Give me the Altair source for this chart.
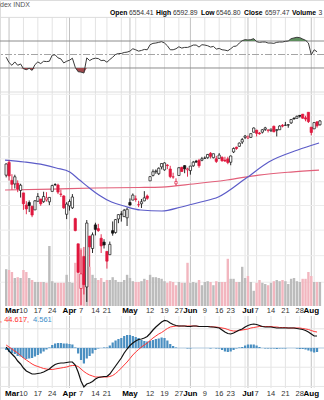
import altair as alt
import pandas as pd

FONT = "Liberation Sans"
RED = "#e0173d"
BLACK = "#111111"

# trading-day index: 0 = Mon 3 Mar 2025, first candle = Fri 28 Feb (-1)
opens = [5856.74, 5968.33, 5811.98, 5781.41, 5785.87, 5726.01,
         5705.37, 5603.65, 5624.84, 5594.45, 5563.85,
         5635.60, 5654.53, 5632.37, 5646.92, 5630.73,
         5718.08, 5775.86, 5771.66, 5695.64, 5679.75,
         5527.91, 5597.53, 5580.76, 5492.74, 5292.14,
         4953.79, 5193.57, 4965.28, 5353.15, 5255.56,
         5441.96, 5411.99, 5335.75, 5305.45,
         5232.94, 5207.67, 5395.92, 5381.38, 5489.73,
         5529.22, 5508.87, 5499.44, 5625.14, 5645.00,
         5655.32, 5607.03, 5614.43, 5638.52, 5679.41,
         5807.57, 5854.88, 5886.63, 5869.55, 5929.09,
         5902.88, 5944.66, 5910.43, 5841.26, 5781.89,
         5854.07, 5925.64, 5939.92, 5903.67,
         5896.68, 5938.56, 5978.94, 5985.67, 5987.06,
         6004.60, 6009.91, 6049.38, 6009.90, 6000.56,
         6004.00, 6012.15, 5987.93, 5999.67,
         5969.67, 6061.21, 6104.31, 6112.09, 6150.70,
         6193.36, 6187.25, 6193.35, 6240.08,
         6259.24, 6233.03, 6240.75, 6266.29, 6255.68,
         6255.15, 6295.22, 6257.64, 6263.40, 6305.39,
         6304.74, 6306.60, 6326.90, 6368.60, 6370.01,
         6397.69, 6409.26, 6374.34, 6427.02, 6287.28,
         6271.71, 6336.24, 6309.34]
highs = [5959.40, 5986.09, 5865.08, 5860.59, 5812.08, 5783.01,
         5705.37, 5636.30, 5642.19, 5597.78, 5645.27,
         5703.52, 5654.53, 5715.33, 5711.15, 5670.84,
         5775.14, 5786.95, 5783.62, 5732.28, 5685.89,
         5627.56, 5650.57, 5695.31, 5499.53, 5292.14,
         5246.57, 5267.47, 5481.34, 5353.15, 5381.46,
         5459.46, 5450.41, 5367.24, 5328.31,
         5232.94, 5309.60, 5469.69, 5489.40, 5528.11,
         5553.66, 5571.95, 5581.84, 5658.91, 5700.70,
         5683.36, 5639.29, 5654.58, 5720.10, 5691.73,
         5847.99, 5906.63, 5906.49, 5924.67, 5958.62,
         5968.61, 5953.06, 5938.37, 5878.08, 5829.51,
         5924.33, 5929.00, 5943.13, 5922.14,
         5937.40, 5981.35, 5990.48, 5999.70, 6016.87,
         6021.31, 6043.01, 6059.40, 6045.43, 6026.16,
         6050.83, 6023.25, 6018.25, 6018.20,
         6028.81, 6101.80, 6108.51, 6146.52, 6187.68,
         6215.08, 6210.78, 6227.60, 6284.65,
         6262.76, 6242.64, 6269.22, 6290.22, 6269.69,
         6273.31, 6302.04, 6267.15, 6304.57, 6315.61,
         6336.08, 6316.12, 6360.64, 6381.31, 6395.82,
         6401.07, 6409.26, 6394.21, 6427.02, 6287.28,
         6330.02, 6343.97, 6352.83]
lows = [5837.66, 5810.91, 5732.59, 5742.35, 5711.64, 5666.29,
        5564.02, 5528.41, 5546.09, 5504.65, 5563.85,
        5631.12, 5597.76, 5622.20, 5632.60, 5603.10,
        5718.08, 5764.01, 5695.46, 5670.94, 5572.42,
        5488.73, 5558.52, 5571.48, 5390.83, 5069.90,
        4835.04, 4910.42, 4856.83, 5115.27, 5220.77,
        5358.02, 5386.44, 5220.79, 5255.58,
        5101.63, 5207.67, 5356.05, 5371.96, 5455.86,
        5468.64, 5505.70, 5433.24, 5597.35, 5644.54,
        5631.67, 5586.44, 5579.68, 5635.35, 5646.79,
        5806.25, 5845.76, 5868.78, 5857.84, 5907.17,
        5895.69, 5909.26, 5830.91, 5825.82, 5767.41,
        5854.07, 5886.81, 5873.80, 5843.66,
        5861.43, 5929.00, 5966.11, 5921.20, 5978.63,
        6000.27, 6000.26, 6002.32, 6003.88, 5963.21,
        6004.00, 5974.80, 5971.89, 5952.56,
        5943.23, 6051.33, 6080.15, 6107.32, 6132.35,
        6177.97, 6177.97, 6188.29, 6240.08,
        6201.14, 6217.80, 6228.88, 6251.67, 6237.49,
        6242.47, 6241.03, 6201.59, 6263.40, 6285.27,
        6303.79, 6281.71, 6317.49, 6360.57, 6368.53,
        6375.92, 6365.72, 6342.19, 6326.06, 6212.69,
        6271.71, 6282.44, 6301.98]
closes = [5954.50, 5849.72, 5778.15, 5842.63, 5738.52, 5770.20,
          5614.56, 5572.07, 5599.30, 5521.52, 5638.94,
          5675.12, 5614.66, 5675.29, 5662.89, 5667.56,
          5767.57, 5776.65, 5712.20, 5693.31, 5580.94,
          5611.85, 5633.07, 5670.97, 5396.52, 5074.08,
          5062.25, 4982.77, 5456.90, 5268.05, 5363.36,
          5405.97, 5396.63, 5275.70, 5282.70,
          5158.20, 5287.76, 5375.86, 5484.77, 5525.21,
          5528.75, 5560.83, 5569.06, 5604.14, 5686.67,
          5650.38, 5606.91, 5631.28, 5663.94, 5659.91,
          5844.19, 5886.55, 5892.58, 5916.93, 5958.38,
          5963.60, 5940.46, 5844.61, 5842.01, 5802.82,
          5921.54, 5888.55, 5912.17, 5911.69,
          5935.94, 5970.37, 5970.81, 5939.30, 6000.36,
          6005.88, 6038.81, 6022.24, 6045.26, 5976.97,
          6033.11, 5982.72, 5980.87, 5967.84,
          6025.17, 6092.18, 6092.16, 6141.02, 6173.07,
          6204.95, 6198.01, 6227.42, 6279.35,
          6229.98, 6225.52, 6263.26, 6280.46, 6259.75,
          6268.56, 6243.76, 6263.70, 6297.36, 6296.79,
          6305.60, 6309.62, 6358.91, 6363.35, 6388.64,
          6389.77, 6370.86, 6362.90, 6339.39, 6238.01,
          6329.94, 6299.19, 6345.06]
prev_close_first = 5861.57
volumes = [4.6, 4.5, 4.25, 3.5, 3.6, 3.5,
           4.5, 4.25, 3.5, 3.25, 3.0,
           3.0, 3.0, 3.0, 2.9, 7.5,
           3.1, 2.9, 2.9, 2.9, 2.9,
           3.9, 3.0, 2.9, 5.4, 6.6,
           7.25, 6.0, 6.9, 4.9, 3.9,
           3.5, 3.25, 3.5, 3.0,
           3.25, 3.25, 3.6, 3.25, 3.0,
           3.0, 3.25, 3.9, 3.5, 3.1,
           3.0, 3.0, 3.1, 3.4, 3.25,
           3.9, 3.6, 3.6, 3.5, 3.4,
           3.1, 2.9, 3.1, 3.0, 2.6,
           3.0, 2.9, 2.9, 5.4,
           2.9, 3.0, 2.9, 3.25, 2.6,
           3.0, 3.1, 3.0, 2.6, 3.1,
           3.0, 3.0, 3.0, 5.9,
           3.4, 3.4, 3.0, 3.0, 4.9,
           3.5, 3.75, 3.0, 1.9,
           2.9, 3.25, 2.9, 2.75, 2.6,
           2.9, 3.1, 3.25, 3.1, 3.25,
           3.1, 2.75, 3.4, 3.5, 3.1,
           3.0, 3.4, 3.4, 4.25, 3.75,
           3.0, 3.0, 3.0]

# indicators, days -1 .. 107
rsi = [46, 38, 34, 39, 34, 36,
       29, 27.5, 29.5, 26.5, 35,
       39, 36.5, 40, 39.5, 40,
       49, 49.5, 45, 43.5, 37.5,
       40, 41.5, 44.5, 31, 24.5,
       24, 22.5, 45, 41, 43.5,
       44.5, 44, 41, 41.5,
       38.5, 42.5, 46, 50, 51.5,
       51.5, 53, 53.5, 55, 58.5,
       57, 55, 56, 57.5, 57,
       64.5, 66.5, 67, 68, 69,
       67, 63, 57, 57, 58.5,
       61.5, 59.5, 60.5, 60.5,
       62, 64, 64, 61, 64.5,
       64, 63, 61, 62, 58,
       59, 57, 56.5, 55.5,
       58.5, 62, 62.5, 67, 70.5,
       72, 71.5, 72, 73.5,
       69, 68, 68.5, 68.5, 67,
       67, 66.5, 68, 68.5, 68.5,
       69.5, 70, 73.5, 74.5, 75.5,
       75, 73, 71, 67, 49.5,
       57, 54]
macd = [2.6, -7.8, -15.6, -23.4, -33.8, -41.6,
        -52.0, -59.8, -63.7, -67.6, -67.6,
        -66.3, -65.0, -62.4, -58.5, -54.6,
        -48.1, -42.9, -40.3, -39.0, -39.0,
        -37.7, -36.4, -36.4, -44.2, -62.4,
        -85.8, -101.4, -93.6, -91.0, -87.1,
        -80.6, -76.7, -75.4, -74.1,
        -74.1, -67.6, -57.2, -46.8, -36.4,
        -26.0, -13.0, -2.6, 6.5, 13.0,
        18.2, 22.1, 23.4, 26.0, 29.9,
        37.7, 46.8, 54.6, 61.1, 67.6,
        71.5, 70.2, 65.0, 61.1, 58.5,
        57.2, 57.2, 57.2, 55.9,
        55.9, 57.2, 57.2, 55.9, 55.9,
        55.9, 55.9, 54.6, 54.6, 53.3,
        52.0, 46.8, 41.6, 37.7,
        36.4, 39.0, 42.9, 46.8, 49.4,
        54.6, 58.5, 61.1, 62.4,
        61.1, 58.5, 55.9, 54.6, 54.6,
        54.6, 53.3, 52.0, 52.0, 52.0,
        52.0, 52.0, 52.0, 52.0, 50.7,
        49.4, 48.1, 45.5, 41.6, 36.4,
        31.2, 31.2]
signal = [7.8, 2.6, -2.6, -7.8, -13.0, -19.5,
          -26.0, -31.2, -36.4, -41.6, -45.5,
          -48.1, -50.7, -53.3, -54.6, -55.9,
          -55.9, -54.6, -53.3, -52.0, -50.7,
          -49.4, -46.8, -45.5, -45.5, -48.1,
          -54.6, -61.1, -66.3, -70.2, -72.8,
          -75.4, -75.4, -75.4, -75.4,
          -75.4, -74.1, -71.5, -66.3, -59.8,
          -52.0, -44.2, -36.4, -27.3, -18.2,
          -10.4, -3.9, 2.6, 7.8, 13.0,
          19.5, 26.0, 31.2, 36.4, 40.3,
          45.5, 50.7, 54.6, 55.9, 57.2,
          57.2, 57.2, 57.2, 57.2,
          57.2, 57.2, 57.2, 55.9, 55.9,
          55.9, 55.9, 55.9, 54.6, 54.6,
          53.3, 52.0, 50.7, 48.1,
          45.5, 44.2, 44.2, 45.5, 46.8,
          48.1, 49.4, 52.0, 53.3,
          54.6, 55.9, 55.9, 55.9, 55.9,
          55.9, 54.6, 54.6, 53.3, 53.3,
          53.3, 52.0, 52.0, 52.0, 52.0,
          52.0, 50.7, 49.4, 48.1, 45.5,
          42.9, 41.6]

ma50_days = [-1.4, 5.3, 12.1, 16.4, 21.1, 24.5, 27.9, 31.2, 35.6, 40.0, 45.7,
             53.1, 59.9, 66.6, 72.7, 82.4, 90.2, 100.3, 107.7]
ma50_vals = [5989, 5972, 5946, 5919, 5884, 5815, 5747, 5688, 5629, 5596, 5563,
             5555, 5588, 5629, 5671, 5832, 5972, 6079, 6142]
ma200_days = [-1.4, 15, 30, 45, 53, 64, 75.7, 86.8, 97.9, 107.7]
ma200_vals = [5730, 5738, 5747, 5751, 5755, 5781, 5815, 5858, 5884, 5901]

tick_days = [0, 5, 10, 15, 21, 25, 30, 34, 42, 49, 54, 59, 63, 68, 73, 77,
             83, 86, 91, 96, 101, 105]
tick_labels = ["Mar", "10", "17", "24", "Apr", "7", "14", "21", "May", "12",
               "19", "27", "Jun", "9", "16", "23", "Jul", "7", "14", "21",
               "28", "Aug"]
month_days = [0, 21, 42, 63, 83, 105]
week_days = [0, 5, 10, 15, 20, 25, 30, 34, 39, 44, 49, 54, 59, 63, 68, 73,
             77, 82, 86, 91, 96, 101, 106]
price_grid = [5000, 5200, 5400, 5600, 5800, 6000, 6200, 6400, 6600]
macd_grid = [-100, -50, 50]

hdr_labels = ["Open", "High", "Low", "Close", "Volume"]
hdr_values = ["6554.41", "6592.89", "6546.80", "6597.47", "3"]

# ---------------- frames ----------------
n = len(opens)
days = list(range(-1, -1 + n))
prevs = [prev_close_first] + closes[:-1]
rows = []
for d, o, h, l, c, v, p in zip(days, opens, highs, lows, closes, volumes, prevs):
    up = c >= p
    stroke = BLACK if up else RED
    fill = "#ffffff" if c > o else stroke
    rows.append(dict(day=d, open=o, high=h, low=l, close=c, vol=v,
                     stroke=stroke, fill=fill,
                     vcol="#bcbcbc" if up else "#f2b6bf"))
pdf = pd.DataFrame(rows)
ind_days = list(range(-1, -1 + len(rsi)))
idf = pd.DataFrame(dict(day=ind_days, rsi=rsi, macd=macd, signal=signal))
ma50_df = pd.DataFrame(dict(day=ma50_days, v=ma50_vals))
ma200_df = pd.DataFrame(dict(day=ma200_days, v=ma200_vals))
grid_all = sorted(set(week_days + month_days))
grid_col = ["#c2c2c2" if g in month_days else "#e3e3e3" for g in grid_all]
tick_df = pd.DataFrame(dict(day=tick_days, t=tick_labels,
                            m=[d in month_days for d in tick_days]))

W, H = 324, 400
xscale = alt.Scale(domain=[-1.41, 107.68], nice=False, zero=False)

# panel scales (each panel gets its own vertical band)
rsi_dom = [-7.04, 105.56]
price_dom = [4827.6, 6612.6]
macd_dom = [-104.0, 83.2]
rsi_scale = alt.Scale(domain=rsi_dom, range=[93, 17], nice=False, zero=False)
price_scale = alt.Scale(type="log", domain=price_dom, range=[306, 93], nice=False, zero=False)
vol_scale = alt.Scale(domain=[0, 26.625], range=[306, 93], nice=False, zero=True)
macd_scale = alt.Scale(domain=macd_dom, range=[388, 316], nice=False, zero=False)


def X(field="day"):
    return alt.X(field + ":Q", scale=xscale, axis=None)


def Y(field, scale):
    return alt.Y(field + ":Q", scale=scale, axis=None)


def vgrid(dom, scale):
    df = pd.DataFrame(dict(day=grid_all, c=grid_col, top=[dom[1]] * len(grid_all),
                           bot=[dom[0]] * len(grid_all)))
    return alt.Chart(df).mark_rule(strokeWidth=1).encode(
        x=X(), y=Y("top", scale), y2="bot:Q", color=alt.Color("c:N", scale=None))


def hrules(vals, scale, **kw):
    return alt.Chart(pd.DataFrame(dict(v=vals))).mark_rule(**kw).encode(y=Y("v", scale))


def tick_text(ypix):
    months = tick_df[tick_df.m & (tick_df.day > 0)]
    first = tick_df[tick_df.day == 0]
    nums = tick_df[~tick_df.m]
    base = dict(baseline="middle", font=FONT)
    return [
        alt.Chart(first).mark_text(align="left", dx=-4, fontSize=8, fontWeight="bold",
                                   color="#000000", **base).encode(
            x=X(), y=alt.value(ypix), text="t:N"),
        alt.Chart(months).mark_text(align="center", fontSize=8, fontWeight="bold",
                                    color="#000000", **base).encode(
            x=X(), y=alt.value(ypix), text="t:N"),
        alt.Chart(nums).mark_text(align="center", fontSize=7.5, color="#333333", **base).encode(
            x=X(), y=alt.value(ypix), text="t:N"),
    ]


# ---------------- header ----------------
hx_lab = [110, 156, 201, 244, 292]
hx_val = [129, 173, 216, 265, 318.5]
hdr_b = pd.DataFrame(dict(t=hdr_labels, px=hx_lab, py=[13] * 5))
hdr_n = pd.DataFrame(dict(t=hdr_values, px=hx_val, py=[13] * 5))
hdr_t = pd.DataFrame(dict(t=["dex INDX"], px=[0], py=[5]))
enc_h = dict(x=alt.X("px:Q", scale=None, axis=None), y=alt.Y("py:Q", scale=None, axis=None),
             text="t:N")
header_layers = [
    alt.Chart(hdr_t).mark_text(align="left", baseline="middle", font=FONT, fontSize=7,
                               color="#555555").encode(**enc_h),
    alt.Chart(hdr_b).mark_text(align="left", baseline="middle", font=FONT, fontSize=6.8,
                               fontWeight="bold", color="#000000").encode(**enc_h),
    alt.Chart(hdr_n).mark_text(align="left", baseline="middle", font=FONT, fontSize=6.8,
                               color="#333333").encode(**enc_h),
]

# ---------------- RSI ----------------
rsi_layers = [
    vgrid(rsi_dom, rsi_scale),
    hrules([105.0, -5.6], rsi_scale, color="#dcdcdc"),
    hrules([30, 70], rsi_scale, color="#8c8c8c"),
    hrules([50], rsi_scale, color="#a5a5a5", strokeDash=[7, 2, 2, 2]),
    alt.Chart(idf).transform_calculate(hi="max(datum.rsi, 70)", b70="70").mark_area(
        color="#5f8f5f", clip=True).encode(x=X(), y=Y("hi", rsi_scale), y2="b70:Q"),
    alt.Chart(idf).transform_calculate(lo="min(datum.rsi, 30)", b30="30").mark_area(
        color="#a3484c", clip=True).encode(x=X(), y=Y("lo", rsi_scale), y2="b30:Q"),
    alt.Chart(idf).mark_line(color="#3a3a3a", strokeWidth=1, clip=True).encode(
        x=X(), y=Y("rsi", rsi_scale)),
]

# ---------------- price ----------------
price_layers = [
    vgrid(price_dom, price_scale),
    hrules(price_grid, price_scale, color="#ececec"),
    alt.Chart(pdf).mark_bar(size=2.4, clip=True).encode(
        x=X(), y=Y("vol", vol_scale), color=alt.Color("vcol:N", scale=None)),
    alt.Chart(ma200_df).mark_line(color="#e2607a", strokeWidth=1.2, interpolate="monotone",
                                  clip=True).encode(x=X(), y=Y("v", price_scale)),
    alt.Chart(ma50_df).mark_line(color="#5c5cc8", strokeWidth=1.2, interpolate="monotone",
                                 clip=True).encode(x=X(), y=Y("v", price_scale)),
    alt.Chart(pdf).mark_rule(strokeWidth=0.9, clip=True).encode(
        x=X(), y=Y("low", price_scale), y2="high:Q", color=alt.Color("stroke:N", scale=None)),
    alt.Chart(pdf).mark_bar(size=2.3, strokeWidth=0.7, clip=True).encode(
        x=X(), y=Y("open", price_scale), y2="close:Q",
        fill=alt.Fill("fill:N", scale=None), stroke=alt.Stroke("stroke:N", scale=None)),
] + tick_text(311)

# ---------------- MACD ----------------
macd_layers = [
    vgrid(macd_dom, macd_scale),
    hrules(macd_grid, macd_scale, color="#e6e6e6"),
    hrules([0], macd_scale, color="#b2cade"),
    alt.Chart(idf).transform_calculate(hist="datum.macd - datum.signal").mark_bar(
        size=2.2, color="#4a8fc1", clip=True).encode(x=X(), y=Y("hist", macd_scale)),
    alt.Chart(idf).mark_line(color="#ff3636", strokeWidth=1, clip=True).encode(
        x=X(), y=Y("signal", macd_scale)),
    alt.Chart(idf).mark_line(color="#111111", strokeWidth=1.2, clip=True).encode(
        x=X(), y=Y("macd", macd_scale)),
    alt.Chart(pd.DataFrame(dict(t=[", 44.617,"]))).mark_text(
        align="left", baseline="middle", font=FONT, fontSize=7.5, color="#ff2a2a").encode(
        x=alt.value(0), y=alt.value(320), text="t:N"),
    alt.Chart(pd.DataFrame(dict(t=["4.561"]))).mark_text(
        align="left", baseline="middle", font=FONT, fontSize=7.5, color="#3d8ec9").encode(
        x=alt.value(33), y=alt.value(320), text="t:N"),
] + tick_text(394)

chart = alt.layer(*(header_layers + rsi_layers + price_layers + macd_layers)).resolve_scale(
    y="independent"
).properties(
    width=W, height=H, padding=0, background="white",
    autosize=alt.AutoSizeParams(type="none"),
).configure_view(strokeWidth=0).configure(font=FONT)

chart.save("out.html", embed_options={"renderer": "svg", "actions": False})
